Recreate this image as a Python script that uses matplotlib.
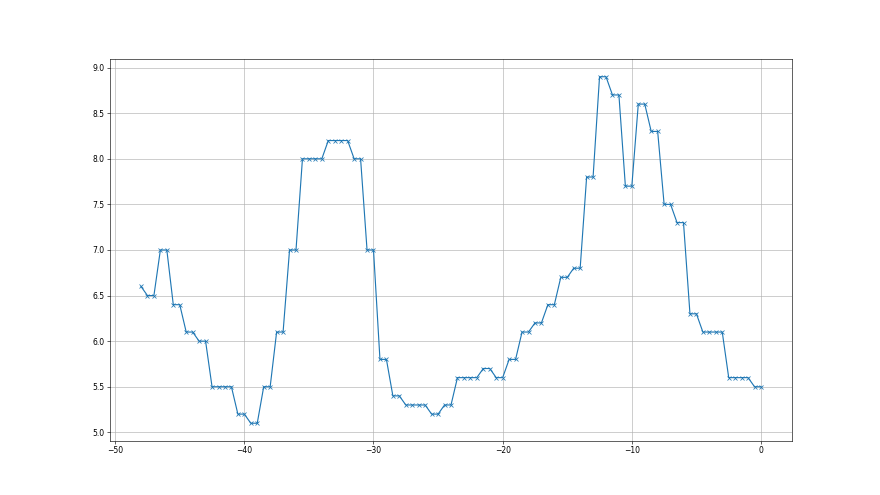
import matplotlib
matplotlib.use("Agg")
import matplotlib.pyplot as plt
import numpy as np

x_start = -48.0
x_step = 0.5
values = [
    6.6,
    6.5, 6.5, 7.0, 7.0, 6.4, 6.4, 6.1, 6.1, 6.0, 6.0,
    5.5, 5.5, 5.5, 5.5,
    5.2, 5.2, 5.1, 5.1, 5.5, 5.5, 6.1, 6.1, 7.0, 7.0,
    8.0, 8.0, 8.0, 8.0, 8.2, 8.2, 8.2, 8.2,
    8.0, 8.0, 7.0, 7.0, 5.8, 5.8, 5.4, 5.4,
    5.3, 5.3, 5.3, 5.3,
    5.2, 5.2, 5.3, 5.3,
    5.6, 5.6, 5.6, 5.6,
    5.7, 5.7, 5.6, 5.6, 5.8, 5.8, 6.1, 6.1, 6.2, 6.2, 6.4, 6.4,
    6.7, 6.7, 6.8, 6.8, 7.8, 7.8, 8.9, 8.9, 8.7, 8.7, 7.7, 7.7,
    8.6, 8.6, 8.3, 8.3, 7.5, 7.5, 7.3, 7.3, 6.3, 6.3,
    6.1, 6.1, 6.1, 6.1,
    5.6, 5.6, 5.6, 5.6,
    5.5, 5.5,
]
x = x_start + x_step * np.arange(len(values))

fig, ax = plt.subplots(figsize=(16, 9), dpi=55)
ax.plot(x, values, marker='x', color='#1f77b4')
ax.grid(True)
fig.savefig("out.png", dpi=55)
